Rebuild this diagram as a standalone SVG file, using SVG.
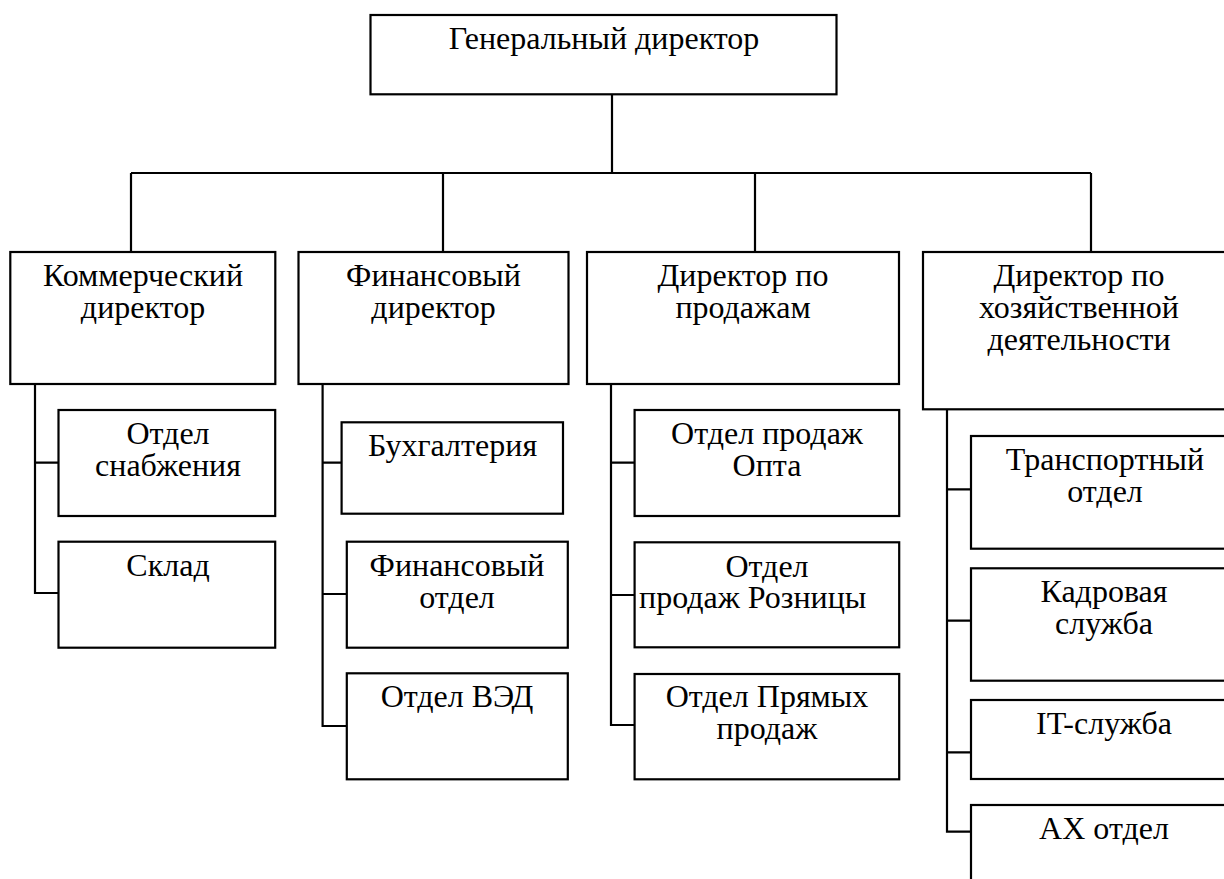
<svg xmlns="http://www.w3.org/2000/svg" width="1224" height="879" viewBox="0 0 1224 879">
<style>
.box{fill:#fff;stroke:#000;stroke-width:2.2}
.ln{fill:none;stroke:#000;stroke-width:2.2}
.t{font-size:32px;fill:#000;text-anchor:middle}
</style>
<rect width="1224" height="879" fill="#fff"/>
<g id="connectors">
<path class="ln" d="M612 94V173M131 173H1091M131 173V252M443 173V252M755 173V252M1091 173V252"/>
<path class="ln" d="M35 384V593H58.5M35 462.7H58.5"/>
<path class="ln" d="M322.6 384V726H346.8M322.6 462.7H346M322.6 594H346.8"/>
<path class="ln" d="M611 384V725H634.6M611 462.7H634.6M611 595H634.6"/>
<path class="ln" d="M947 409V831.7H971M947 489.3H971M947 620.7H971M947 752.3H971"/>
</g>
<g class="t" font-family="'Liberation Serif', 'Times New Roman', Tinos, 'DejaVu Serif', serif">
<g id="gen"><rect class="box" x="370.5" y="15" width="466" height="79.3"/><text x="604" y="48.5">Генеральный директор</text></g>
<g id="kom"><rect class="box" x="10.3" y="252" width="265" height="132"/><text x="143" y="286">Коммерческий</text><text x="143" y="318">директор</text></g>
<g id="fin"><rect class="box" x="298.5" y="252" width="270" height="132"/><text x="433.5" y="286">Финансовый</text><text x="433.5" y="318">директор</text></g>
<g id="prod"><rect class="box" x="587" y="252" width="312" height="132"/><text x="743" y="286">Директор по</text><text x="743" y="318">продажам</text></g>
<g id="hoz"><rect class="box" x="923" y="252" width="312" height="157.3"/><text x="1079" y="286">Директор по</text><text x="1079" y="318">хозяйственной</text><text x="1079" y="350">деятельности</text></g>
<g id="snab"><rect class="box" x="58.5" y="410" width="216.7" height="106"/><text x="168" y="444">Отдел</text><text x="168" y="476">снабжения</text></g>
<g id="sklad"><rect class="box" x="58.5" y="541.7" width="216.7" height="106"/><text x="168" y="576">Склад</text></g>
<g id="buh"><rect class="box" x="341.6" y="422.3" width="221.4" height="91.4"/><text x="452.5" y="456">Бухгалтерия</text></g>
<g id="finotd"><rect class="box" x="346.8" y="541.7" width="221" height="106"/><text x="457" y="576">Финансовый</text><text x="457" y="608">отдел</text></g>
<g id="ved"><rect class="box" x="346.8" y="673.3" width="221" height="106"/><text x="457" y="707">Отдел ВЭД</text></g>
<g id="opt"><rect class="box" x="634.6" y="410" width="264.6" height="106"/><text x="767" y="444">Отдел продаж</text><text x="767" y="476">Опта</text></g>
<g id="rozn"><rect class="box" x="634.6" y="542.3" width="264.6" height="105"/><text x="767" y="576.5">Отдел</text><text x="639" y="608.3" style="text-anchor:start">продаж Розницы</text></g>
<g id="pryam"><rect class="box" x="634.6" y="674" width="264.6" height="105.3"/><text x="767" y="707">Отдел Прямых</text><text x="767" y="739">продаж</text></g>
<g id="trans"><rect class="box" x="971" y="436" width="266" height="112.7"/><text x="1105" y="470">Транспортный</text><text x="1105" y="502">отдел</text></g>
<g id="kadr"><rect class="box" x="971" y="568.3" width="266" height="112.4"/><text x="1104" y="602">Кадровая</text><text x="1104" y="634">служба</text></g>
<g id="it"><rect class="box" x="971" y="700" width="266" height="79"/><text x="1104" y="734">IT-служба</text></g>
<g id="ah"><rect class="box" x="971" y="805" width="266" height="90"/><text x="1104" y="839">АХ отдел</text></g>
</g>
</svg>
